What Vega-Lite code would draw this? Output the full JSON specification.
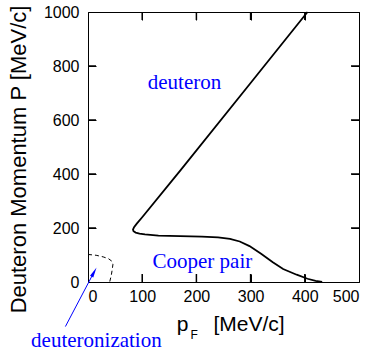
{
  "$schema": "https://vega.github.io/schema/vega-lite/v6.json",
  "width": 271,
  "height": 270,
  "autosize": "none",
  "padding": {"left": 88, "top": 12, "right": 20, "bottom": 69},
  "background": "white",
  "config": {
    "view": {"stroke": null},
    "axis": {
      "grid": false,
      "domain": true,
      "domainColor": "black",
      "domainWidth": 1,
      "ticks": true,
      "zindex": 1,
      "tickColor": "black",
      "tickSize": -8,
      "tickWidth": 1,
      "labelFont": "Liberation Sans",
      "labelFontSize": 16,
      "labelColor": "black",
      "titleFont": "Liberation Sans",
      "titleFontWeight": "normal",
      "titleColor": "black"
    }
  },
  "datasets": {
    "solid": [
      {"order": 1, "pF": 405, "P": 1000},
      {"order": 2, "pF": 300, "P": 737},
      {"order": 3, "pF": 172, "P": 417},
      {"order": 4, "pF": 100, "P": 240},
      {"order": 5, "pF": 90, "P": 216},
      {"order": 6, "pF": 85, "P": 203},
      {"order": 7, "pF": 83, "P": 194},
      {"order": 8, "pF": 84, "P": 188},
      {"order": 9, "pF": 88, "P": 183},
      {"order": 10, "pF": 95, "P": 179},
      {"order": 11, "pF": 105, "P": 176},
      {"order": 12, "pF": 130, "P": 172},
      {"order": 13, "pF": 170, "P": 170},
      {"order": 14, "pF": 210, "P": 168},
      {"order": 15, "pF": 240, "P": 165},
      {"order": 16, "pF": 262, "P": 160},
      {"order": 17, "pF": 280, "P": 150},
      {"order": 18, "pF": 298, "P": 133},
      {"order": 19, "pF": 320, "P": 104},
      {"order": 20, "pF": 341, "P": 73},
      {"order": 21, "pF": 360, "P": 48},
      {"order": 22, "pF": 385, "P": 27},
      {"order": 23, "pF": 405, "P": 12},
      {"order": 24, "pF": 420, "P": 4},
      {"order": 25, "pF": 432, "P": 0}
    ],
    "dashed": [
      {"order": 1, "pF": 0, "P": 102},
      {"order": 2, "pF": 15, "P": 99},
      {"order": 3, "pF": 28, "P": 93},
      {"order": 4, "pF": 38, "P": 86},
      {"order": 5, "pF": 44, "P": 77},
      {"order": 6, "pF": 46, "P": 66},
      {"order": 7, "pF": 45, "P": 50},
      {"order": 8, "pF": 43, "P": 25},
      {"order": 9, "pF": 40, "P": 0}
    ],
    "xticks": [{"v": 100}, {"v": 200}, {"v": 300}, {"v": 400}],
    "yticks": [{"v": 200}, {"v": 400}, {"v": 600}, {"v": 800}],
    "notes": [
      {"pF": 178, "P": 713, "text": "deuteron"},
      {"pF": 211, "P": 53, "text": "Cooper pair"},
      {"pF": 15.5, "P": -241, "text": "deuteronization"}
    ],
    "titleMain": [
      {"pF": 163.6, "P": -181.5, "text": "p"},
      {"pF": 231.4, "P": -181.5, "text": "[MeV/c]"}
    ],
    "titleSub": [
      {"pF": 189, "P": -212, "text": "F"}
    ],
    "arrow": [
      {"pF": -41.7, "P": -165, "pF2": 12, "P2": 40}
    ],
    "arrowHead": [
      {"pF": 11.25, "P": 37}
    ]
  },
  "layer": [
    {
      "data": {"name": "solid"},
      "mark": {"type": "line", "color": "black", "strokeWidth": 1.8},
      "encoding": {
        "x": {"field": "pF", "type": "quantitative", "scale": {"domain": [0, 500], "nice": false, "zero": false},
              "axis": {"orient": "bottom", "values": [0, 100, 200, 300, 400, 500], "title": null, "labelPadding": 14}},
        "y": {"field": "P", "type": "quantitative", "scale": {"domain": [0, 1000], "nice": false, "zero": false},
              "axis": {"orient": "left", "values": [0, 200, 400, 600, 800, 1000], "format": "d", "title": "Deuteron Momentum P  [MeV/c]",
                       "titleFontSize": 22, "titleAngle": -90, "titleX": -63, "titleY": 147, "titleBaseline": "alphabetic", "titleAlign": "center", "labelPadding": 17}},
        "order": {"field": "order", "type": "quantitative"}
      }
    },
    {
      "data": {"name": "dashed"},
      "mark": {"type": "line", "color": "black", "strokeWidth": 1, "strokeDash": [4, 3]},
      "encoding": {
        "x": {"field": "pF", "type": "quantitative",
              "axis": {"orient": "top", "values": [0, 100, 200, 300, 400, 500], "labels": false, "title": null}},
        "y": {"field": "P", "type": "quantitative",
              "axis": {"orient": "right", "values": [0, 200, 400, 600, 800, 1000], "labels": false, "title": null}},
        "order": {"field": "order", "type": "quantitative"}
      }
    },
    {
      "data": {"name": "xticks"},
      "mark": {"type": "rule", "color": "black", "strokeWidth": 1.5},
      "encoding": {
        "x": {"field": "v", "type": "quantitative", "axis": null},
        "y": {"datum": 0, "type": "quantitative", "axis": null},
        "y2": {"datum": 29.6}
      }
    },
    {
      "data": {"name": "xticks"},
      "mark": {"type": "rule", "color": "black", "strokeWidth": 1.5},
      "encoding": {
        "x": {"field": "v", "type": "quantitative", "axis": null},
        "y": {"datum": 1000, "type": "quantitative", "axis": null},
        "y2": {"datum": 970.4}
      }
    },
    {
      "data": {"name": "yticks"},
      "mark": {"type": "rule", "color": "black", "strokeWidth": 1.5},
      "encoding": {
        "y": {"field": "v", "type": "quantitative", "axis": null},
        "x": {"datum": 0, "type": "quantitative", "axis": null},
        "x2": {"datum": 14.8}
      }
    },
    {
      "data": {"name": "yticks"},
      "mark": {"type": "rule", "color": "black", "strokeWidth": 1.5},
      "encoding": {
        "y": {"field": "v", "type": "quantitative", "axis": null},
        "x": {"datum": 500, "type": "quantitative", "axis": null},
        "x2": {"datum": 485.2}
      }
    },
    {
      "data": {"name": "arrow"},
      "mark": {"type": "rule", "color": "#0000ff", "strokeWidth": 1},
      "encoding": {
        "x": {"field": "pF", "type": "quantitative", "axis": null},
        "y": {"field": "P", "type": "quantitative", "axis": null},
        "x2": {"field": "pF2"},
        "y2": {"field": "P2"}
      }
    },
    {
      "data": {"name": "arrowHead"},
      "mark": {"type": "point", "shape": "M0,-1L-0.35,1L0.35,1Z", "filled": true, "color": "#0000ff", "size": 110, "angle": 28, "opacity": 1},
      "encoding": {
        "x": {"field": "pF", "type": "quantitative", "axis": null},
        "y": {"field": "P", "type": "quantitative", "axis": null}
      }
    },
    {
      "data": {"name": "notes"},
      "mark": {"type": "text", "font": "Liberation Serif", "fontSize": 21, "color": "#0000ff", "align": "center", "baseline": "alphabetic"},
      "encoding": {
        "x": {"field": "pF", "type": "quantitative", "axis": null},
        "y": {"field": "P", "type": "quantitative", "axis": null},
        "text": {"field": "text"}
      }
    },
    {
      "data": {"name": "titleMain"},
      "mark": {"type": "text", "font": "Liberation Sans", "fontSize": 21, "color": "black", "align": "left", "baseline": "alphabetic"},
      "encoding": {
        "x": {"field": "pF", "type": "quantitative", "axis": null},
        "y": {"field": "P", "type": "quantitative", "axis": null},
        "text": {"field": "text"}
      }
    },
    {
      "data": {"name": "titleSub"},
      "mark": {"type": "text", "font": "Liberation Sans", "fontSize": 12, "color": "black", "align": "left", "baseline": "alphabetic"},
      "encoding": {
        "x": {"field": "pF", "type": "quantitative", "axis": null},
        "y": {"field": "P", "type": "quantitative", "axis": null},
        "text": {"field": "text"}
      }
    }
  ],
  "resolve": {"axis": {"x": "independent", "y": "independent"}}
}
